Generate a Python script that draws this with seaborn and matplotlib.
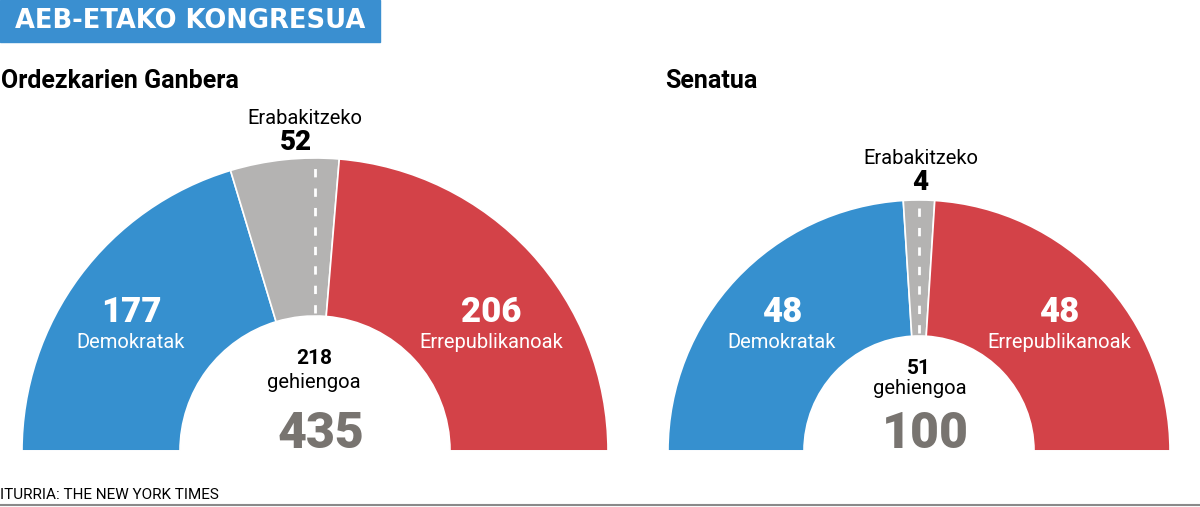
import matplotlib
matplotlib.use("Agg")
import matplotlib.pyplot as plt
import seaborn as sns

# ---------------------------------------------------------------------------
# Data
# ---------------------------------------------------------------------------
party_names = ["Demokratak", "Erabakitzeko", "Errepublikanoak"]
house_seats = [177, 52, 206]
senate_seats = [48, 4, 48]
house_majority = 218
senate_majority = 51
chart_titles = ["Ordezkarien Ganbera", "Senatua"]
main_title = "AEB-ETAKO KONGRESUA"
majority_word = "gehiengoa"
source_text = "ITURRIA: THE NEW YORK TIMES"

BLUE = "#3690cf"
GRAY = "#b4b3b2"
RED = "#d34248"
TOTAL_GRAY = "#787470"
colors = [BLUE, GRAY, RED]

sns.set_theme(style="white")
plt.rcParams["font.family"] = ["Roboto", "DejaVu Sans"]

W, H = 1200, 507
fig = plt.figure(figsize=(W / 100, H / 100), dpi=100)
fig.patch.set_facecolor("white")


def fx(x):
    return x / W


def fy(y):
    return 1 - y / H


def hemicycle(cx, base, R, r_in, seats):
    ax = fig.add_axes([fx(cx - R), fy(base), 2 * R / W, R / H])
    total = sum(seats)
    ax.pie(
        seats + [total],
        colors=colors + ["none"],
        startangle=180,
        counterclock=False,
        radius=1,
        wedgeprops=dict(width=1 - r_in / R, edgecolor="white", linewidth=1.2),
    )
    ax.plot([0, 0], [r_in / R + 0.01, 0.99], color="white", lw=2,
            linestyle=(0, (3, 4)))
    ax.set_xlim(-1, 1)
    ax.set_ylim(0, 1)
    ax.set_aspect("auto")
    ax.axis("off")
    return total


# title box
fig.patches.append(plt.Rectangle((0, fy(42)), fx(380), 42 / H,
                                 transform=fig.transFigure,
                                 color="#3a8fd0", zorder=0))
fig.text(fx(190), fy(21), main_title, color="white", fontsize=18.5,
         fontweight="bold", family=["DejaVu Sans"], ha="center", va="center")

# subtitles
fig.text(fx(1), fy(81), chart_titles[0], fontsize=18, fontweight="bold",
         ha="left", va="center", color="black")
fig.text(fx(665), fy(81), chart_titles[1], fontsize=18, fontweight="bold",
         ha="left", va="center", color="black")

# House
total_h = hemicycle(315, 451, 293, 135, house_seats)
# Senate
total_s = hemicycle(919, 451, 251, 115, senate_seats)

big = dict(fontsize=25, fontweight="heavy", ha="center", va="center")
lab = dict(fontsize=14.5, fontweight="normal", ha="center", va="center")

for (cx_d, cx_r, cx_u, y_u, cx_n), seats in [
    ((131, 491, 305, 119, 296), house_seats),
    ((782, 1059, 921, 158, 920), senate_seats),
]:
    fig.text(fx(cx_d), fy(312), str(seats[0]), color="white", **big)
    fig.text(fx(cx_d), fy(342), party_names[0], color="white", **lab)
    fig.text(fx(cx_r), fy(312), str(seats[2]), color="white", **big)
    fig.text(fx(cx_r), fy(342), party_names[2], color="white", **lab)
    fig.text(fx(cx_u), fy(y_u), party_names[1], color="black", **lab)
    fig.text(fx(cx_n), fy(y_u + 24), str(seats[1]),
             color="black", fontsize=20, fontweight="heavy",
             ha="center", va="center")

fig.text(fx(314), fy(359), str(house_majority), fontsize=15, fontweight="bold",
         ha="center", va="center", color="black")
fig.text(fx(314), fy(383), majority_word, color="black", **lab)
fig.text(fx(321), fy(435), str(total_h), fontsize=36, fontweight="heavy",
         ha="center", va="center", color=TOTAL_GRAY)

fig.text(fx(919), fy(368), str(senate_majority), fontsize=15, fontweight="bold",
         ha="center", va="center", color="black")
fig.text(fx(920), fy(389), majority_word, color="black", **lab)
fig.text(fx(925), fy(435), str(total_s), fontsize=36, fontweight="heavy",
         ha="center", va="center", color=TOTAL_GRAY)

# source and bottom rule
fig.text(fx(0), fy(495), source_text, fontsize=11, fontweight="normal",
         ha="left", va="center", color="black")
fig.add_artist(plt.Line2D([0, 1], [fy(505), fy(505)], transform=fig.transFigure,
                          color="#8a8a8a", lw=1.5))

fig.savefig("out.png", dpi=100)
